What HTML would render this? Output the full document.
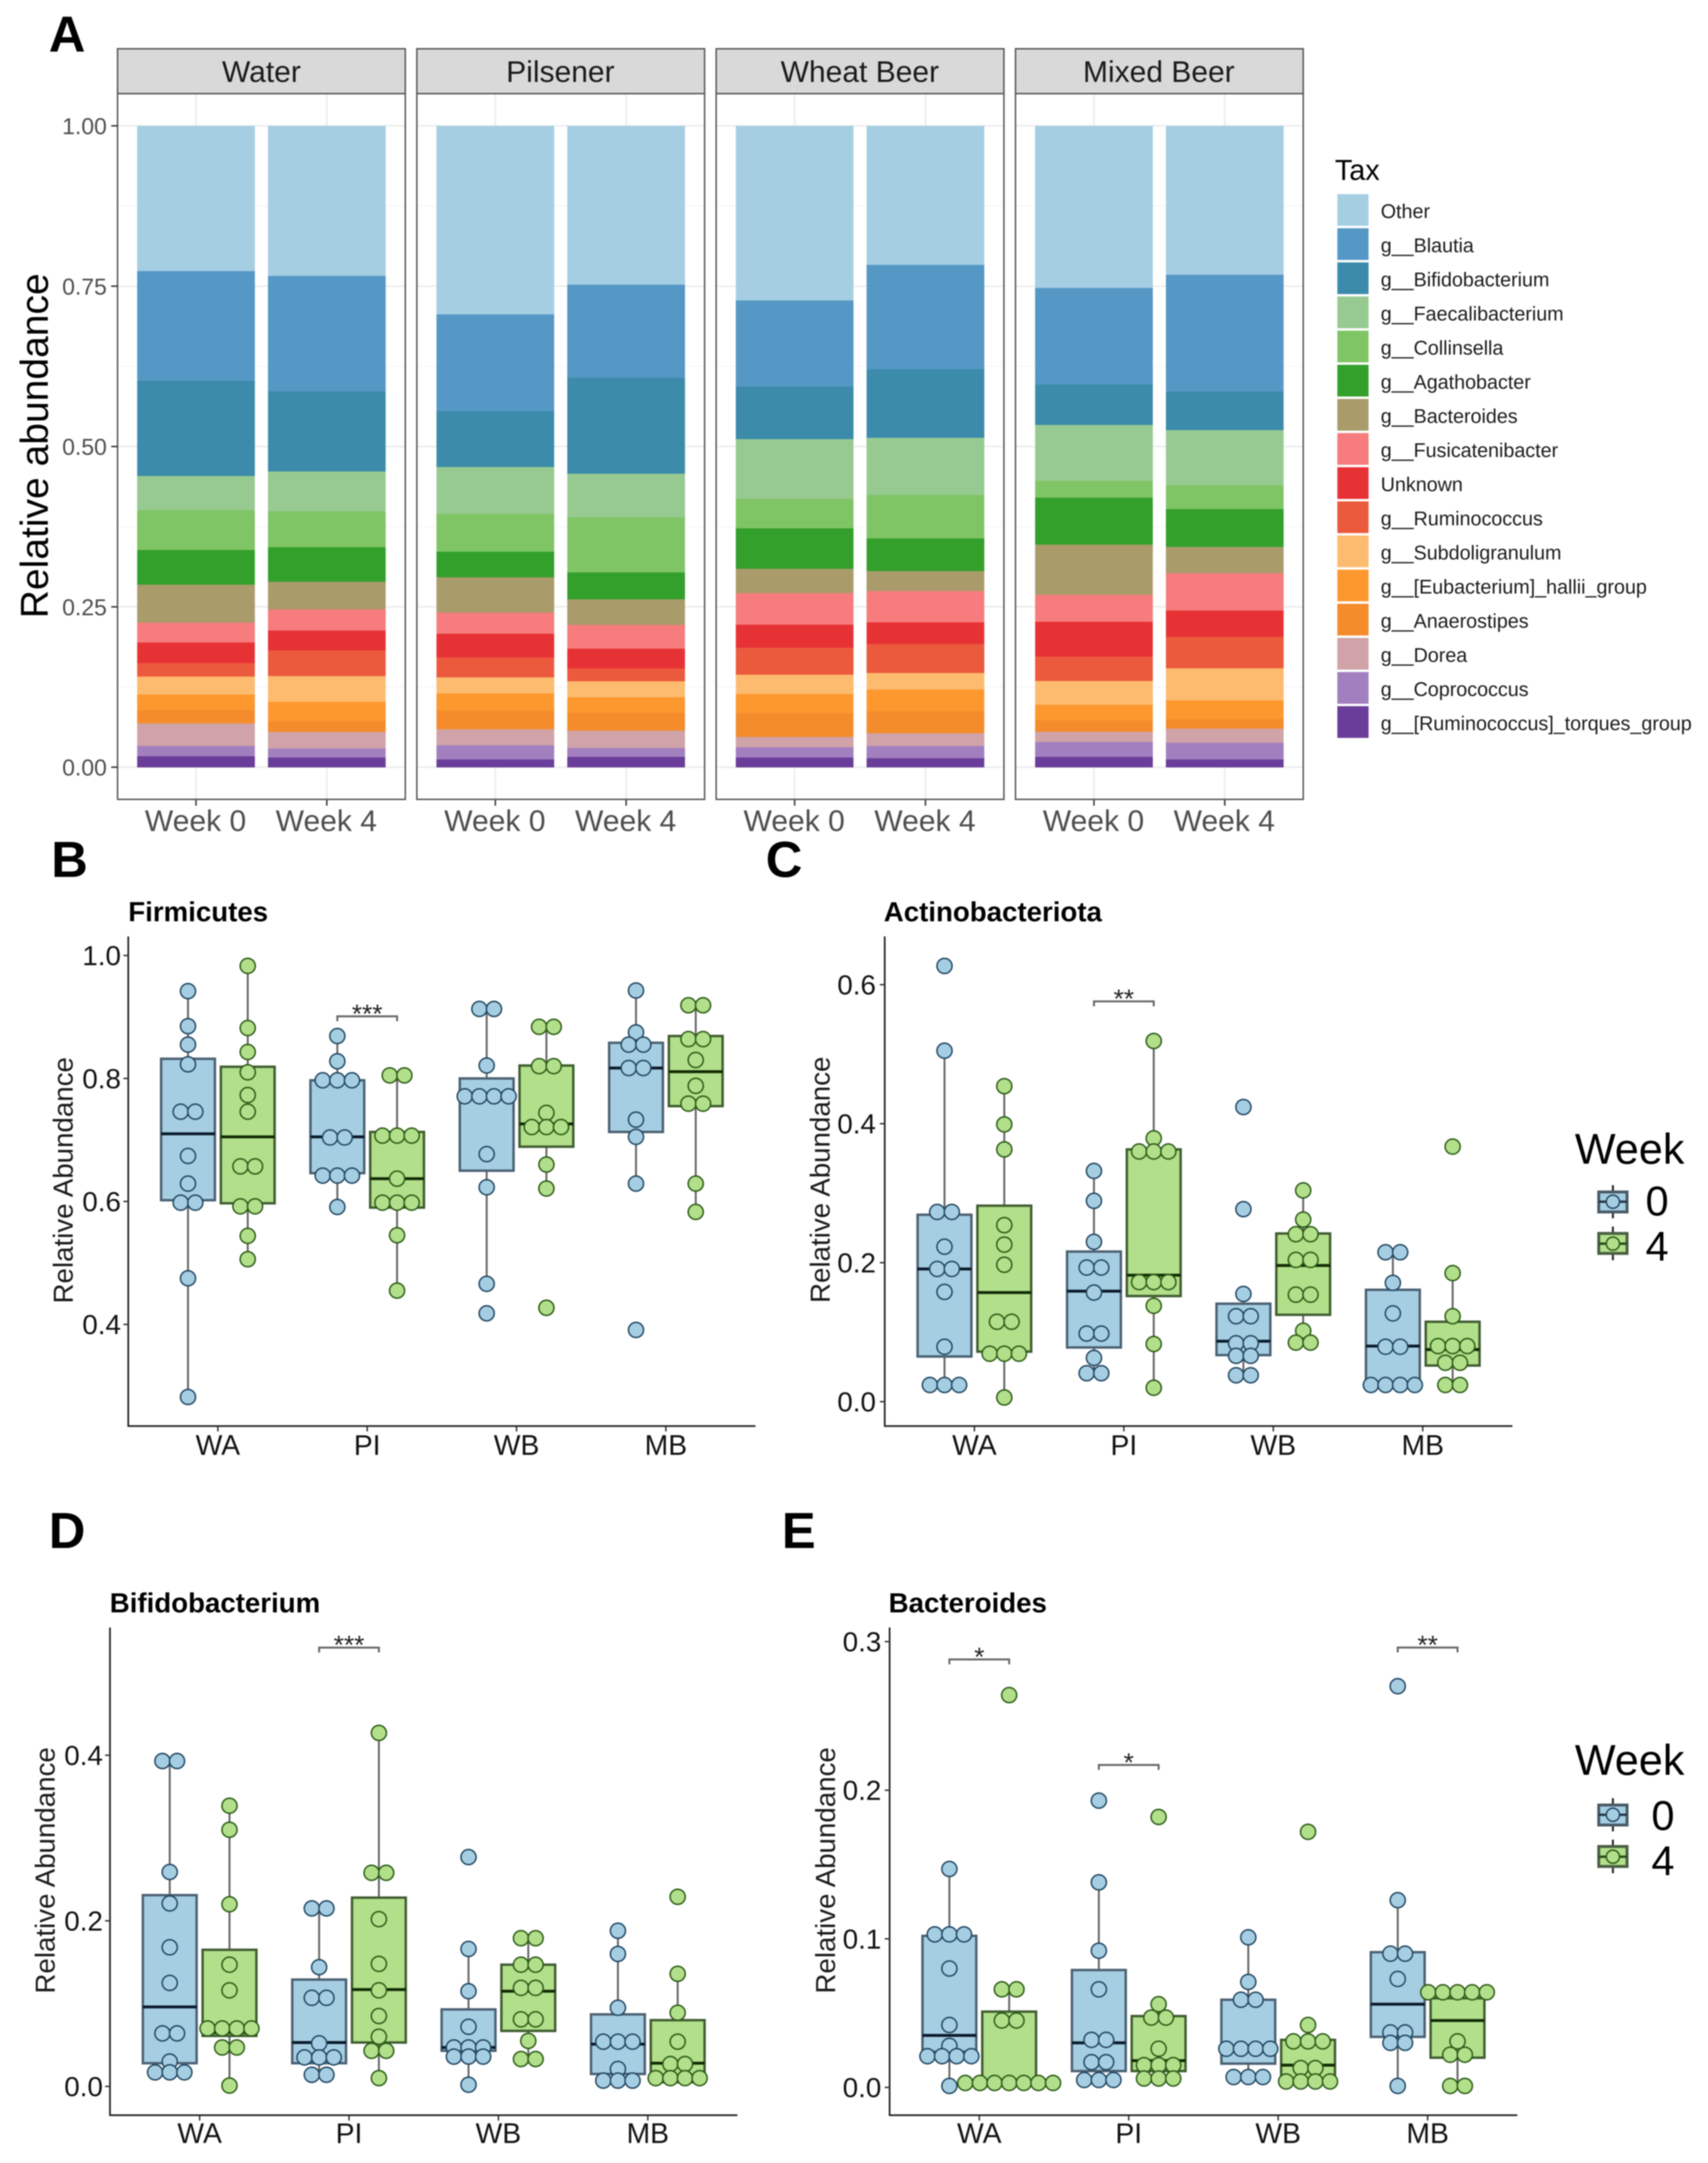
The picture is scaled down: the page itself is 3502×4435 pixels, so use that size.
<!DOCTYPE html>
<html lang="en">
<head>
<meta charset="utf-8">
<title>Relative abundance of gut microbiota by beer type</title>
<style>
html,body{margin:0;padding:0;background:#fff;width:3502px;height:4435px;overflow:hidden}
svg{display:block;filter:blur(1.3px)}
text{font-family:"Liberation Sans",Arial,sans-serif}
.letter{font-size:104px;font-weight:700;fill:#000}
.strip{font-size:61.5px;fill:#1a1a1a;text-anchor:middle}
.leg{font-size:40.4px;fill:#1a1a1a}
.title{font-size:56.7px;font-weight:700;fill:#000}
.ytitle{font-size:56.8px;fill:#1a1a1a;text-anchor:middle}
.wk{font-size:88.5px;fill:#000}
.wkv{font-size:85px;fill:#000}
</style>
</head>
<body>
<svg id="fig" xmlns="http://www.w3.org/2000/svg" width="3502" height="4435" viewBox="0 0 3502 4435">
<rect x="0" y="0" width="3502" height="4435" fill="#fff"/>
<g id="panelA"></g>
<g id="panelB"></g>
<g id="panelC"></g>
<g id="panelD"></g>
<g id="panelE"></g>

<text class="letter" x="100" y="106">A</text>
<text class="letter" x="105" y="1798">B</text>
<text class="letter" x="1570" y="1798">C</text>
<text class="letter" x="100" y="3174">D</text>
<text class="letter" x="1603" y="3174">E</text>

<text class="strip" x="536" y="168">Water</text>
<text class="strip" x="1149" y="168">Pilsener</text>
<text class="strip" x="1763" y="168">Wheat Beer</text>
<text class="strip" x="2376" y="168">Mixed Beer</text>
<text font-size="80" fill="#000" text-anchor="middle" transform="translate(98,914) rotate(-90)">Relative abundance</text>

<g>
<text x="2737" y="369" font-size="59" fill="#000">Tax</text>
<rect x="2742" y="398" width="64" height="65" fill="#a6cee3"/>
<rect x="2742" y="468" width="64" height="65" fill="#5598c6"/>
<rect x="2742" y="538" width="64" height="65" fill="#3c8bab"/>
<rect x="2742" y="608" width="64" height="65" fill="#97ca91"/>
<rect x="2742" y="678" width="64" height="65" fill="#80c565"/>
<rect x="2742" y="748" width="64" height="65" fill="#33a02c"/>
<rect x="2742" y="818" width="64" height="65" fill="#aa9b6b"/>
<rect x="2742" y="888" width="64" height="65" fill="#f67c7d"/>
<rect x="2742" y="958" width="64" height="65" fill="#e73235"/>
<rect x="2742" y="1028" width="64" height="65" fill="#ec5a3d"/>
<rect x="2742" y="1098" width="64" height="65" fill="#fdbb6f"/>
<rect x="2742" y="1168" width="64" height="65" fill="#fd982f"/>
<rect x="2742" y="1238" width="64" height="65" fill="#f48c2c"/>
<rect x="2742" y="1308" width="64" height="65" fill="#cfa3a8"/>
<rect x="2742" y="1378" width="64" height="65" fill="#a27fbe"/>
<rect x="2742" y="1448" width="64" height="65" fill="#6a3d9a"/>
<text class="leg" x="2831" y="447">Other</text>
<text class="leg" x="2831" y="517">g__Blautia</text>
<text class="leg" x="2831" y="587">g__Bifidobacterium</text>
<text class="leg" x="2831" y="657">g__Faecalibacterium</text>
<text class="leg" x="2831" y="727">g__Collinsella</text>
<text class="leg" x="2831" y="797">g__Agathobacter</text>
<text class="leg" x="2831" y="867">g__Bacteroides</text>
<text class="leg" x="2831" y="937">g__Fusicatenibacter</text>
<text class="leg" x="2831" y="1007">Unknown</text>
<text class="leg" x="2831" y="1077">g__Ruminococcus</text>
<text class="leg" x="2831" y="1147">g__Subdoligranulum</text>
<text class="leg" x="2831" y="1217">g__[Eubacterium]_hallii_group</text>
<text class="leg" x="2831" y="1287">g__Anaerostipes</text>
<text class="leg" x="2831" y="1357">g__Dorea</text>
<text class="leg" x="2831" y="1427">g__Coprococcus</text>
<text class="leg" x="2831" y="1497">g__[Ruminococcus]_torques_group</text>
</g>

<text class="title" x="263" y="1889">Firmicutes</text>
<text class="title" x="1812" y="1889">Actinobacteriota</text>
<text class="title" x="225" y="3306">Bifidobacterium</text>
<text class="title" x="1822" y="3306">Bacteroides</text>

<text class="ytitle" transform="translate(149,2420) rotate(-90)">Relative Abundance</text>
<text class="ytitle" transform="translate(1701,2419) rotate(-90)">Relative Abundance</text>
<text class="ytitle" transform="translate(112,3835) rotate(-90)">Relative Abundance</text>
<text class="ytitle" transform="translate(1712,3835) rotate(-90)">Relative Abundance</text>

<g>
<text class="wk" x="3229" y="2386">Week</text>
<line x1="3307" x2="3307" y1="2430" y2="2498" stroke="#222" stroke-width="4"/>
<rect x="3278" y="2444" width="58" height="41" fill="#a6cee3" stroke="#4a5a66" stroke-width="6"/>
<line x1="3278" x2="3336" y1="2464" y2="2464" stroke="#263a48" stroke-width="5"/>
<circle cx="3307" cy="2464" r="13.5" fill="#a6cee3" stroke="#1f4560" stroke-width="3"/>
<line x1="3307" x2="3307" y1="2515" y2="2584" stroke="#222" stroke-width="4"/>
<rect x="3278" y="2529" width="58" height="41" fill="#b2df8a" stroke="#4a5f42" stroke-width="6"/>
<line x1="3278" x2="3336" y1="2550" y2="2550" stroke="#2a4a1c" stroke-width="5"/>
<circle cx="3307" cy="2550" r="13.5" fill="#b2df8a" stroke="#2a5a14" stroke-width="3"/>
<text class="wkv" x="3374" y="2492">0</text>
<text class="wkv" x="3374" y="2585">4</text>
</g>

<g>
<text class="wk" x="3229" y="3639">Week</text>
<line x1="3307" x2="3307" y1="3687" y2="3755" stroke="#222" stroke-width="4"/>
<rect x="3278" y="3701" width="58" height="41" fill="#a6cee3" stroke="#4a5a66" stroke-width="6"/>
<line x1="3278" x2="3336" y1="3721" y2="3721" stroke="#263a48" stroke-width="5"/>
<circle cx="3307" cy="3721" r="13.5" fill="#a6cee3" stroke="#1f4560" stroke-width="3"/>
<line x1="3307" x2="3307" y1="3772" y2="3841" stroke="#222" stroke-width="4"/>
<rect x="3278" y="3786" width="58" height="41" fill="#b2df8a" stroke="#4a5f42" stroke-width="6"/>
<line x1="3278" x2="3336" y1="3807" y2="3807" stroke="#2a4a1c" stroke-width="5"/>
<circle cx="3307" cy="3807" r="13.5" fill="#b2df8a" stroke="#2a5a14" stroke-width="3"/>
<text class="wkv" x="3386" y="3752">0</text>
<text class="wkv" x="3386" y="3845">4</text>
</g>
</svg>

<script>
/* ---------- Panel A data: abundance per taxon, top of stack first ---------- */
const taxa = ['Other','g__Blautia','g__Bifidobacterium','g__Faecalibacterium','g__Collinsella','g__Agathobacter','g__Bacteroides','g__Fusicatenibacter','Unknown','g__Ruminococcus','g__Subdoligranulum','g__[Eubacterium]_hallii_group','g__Anaerostipes','g__Dorea','g__Coprococcus','g__[Ruminococcus]_torques_group'];
const taxaColors = ['#a6cee3','#5598c6','#3c8bab','#97ca91','#80c565','#33a02c','#aa9b6b','#f67c7d','#e73235','#ec5a3d','#fdbb6f','#fd982f','#f48c2c','#cfa3a8','#a27fbe','#6a3d9a'];
const facets = ['Water','Pilsener','Wheat Beer','Mixed Beer'];
const weekLabels = ['Week 0','Week 4'];
const stackTicks = ['0.00','0.25','0.50','0.75','1.00'];
const stackMinorTicks = [0.125,0.375,0.625,0.875];
const waterWeek0 = [.226,.171,.148,.053,.062,.054,.059,.031,.032,.021,.028,.024,.021,.035,.016,.017];
const waterWeek4 = [.234,.180,.125,.062,.056,.054,.043,.033,.031,.040,.040,.030,.017,.026,.014,.015];
const pilsenerWeek0 = [.294,.151,.087,.073,.059,.040,.055,.033,.037,.031,.025,.027,.029,.025,.022,.012];
const pilsenerWeek4 = [.248,.145,.150,.068,.086,.042,.040,.037,.031,.020,.025,.024,.028,.027,.014,.016];
const wheatWeek0 = [.272,.134,.082,.093,.046,.063,.038,.049,.036,.042,.030,.030,.037,.016,.016,.015];
const wheatWeek4 = [.217,.163,.107,.089,.068,.051,.031,.049,.034,.045,.026,.034,.034,.020,.019,.014];
const mixedWeek0 = [.252,.150,.063,.087,.026,.073,.078,.042,.054,.038,.037,.024,.018,.016,.023,.016];
const mixedWeek4 = [.232,.182,.060,.086,.037,.059,.041,.058,.041,.049,.050,.029,.015,.022,.026,.012];

/* ---------- Box panels: categories and values ---------- */
const groups = ['WA','PI','WB','MB'];

const firmicutesTicks = ['0.4','0.6','0.8','1.0'];
/* order: WA0, WA4, PI0, PI4, WB0, WB4, MB0, MB4. Repeated values stack side by side. */
const firmicutesPoints = [
 [.942,.885,.855,.823,.746,.746,.674,.629,.598,.598,.475,.282],
 [.983,.882,.843,.81,.773,.746,.657,.657,.592,.592,.544,.506],
 [.869,.828,.797,.797,.797,.704,.704,.642,.642,.642,.591],
 [.805,.805,.707,.707,.707,.637,.598,.598,.598,.545,.455],
 [.913,.913,.821,.771,.771,.771,.771,.677,.623,.466,.418],
 [.884,.884,.82,.82,.744,.721,.721,.721,.66,.621,.427],
 [.943,.875,.855,.855,.817,.817,.733,.705,.629,.391],
 [.919,.919,.864,.864,.83,.788,.759,.759,.629,.583]
];
/* q1, median, q3, whisker low, whisker high */
const firmicutesBoxes = [
 [.602,.710,.832,.282,.942],[.597,.705,.819,.506,.983],
 [.646,.705,.797,.591,.869],[.590,.637,.713,.455,.805],
 [.650,.771,.800,.466,.913],[.689,.726,.821,.621,.884],
 [.713,.817,.858,.629,.943],[.755,.811,.869,.583,.919]
];
const firmicutesBrackets = [['PI',.901,'***']];

const actinoTicks = ['0.0','0.2','0.4','0.6'];
const actinoPoints = [
 [.627,.505,.273,.273,.223,.191,.191,.158,.079,.024,.024,.024],
 [.454,.399,.363,.254,.226,.197,.115,.115,.069,.069,.069,.006],
 [.332,.289,.230,.193,.193,.157,.098,.098,.063,.041,.041],
 [.519,.379,.360,.360,.360,.172,.172,.172,.138,.083,.020],
 [.424,.277,.155,.123,.123,.084,.084,.066,.066,.038,.038],
 [.304,.262,.241,.241,.204,.204,.154,.154,.102,.085,.085],
 [.215,.215,.171,.127,.079,.079,.024,.024,.024,.024],
 [.367,.185,.123,.080,.080,.080,.056,.056,.024,.024]
];
const actinoBoxes = [
 [.065,.191,.269,.024,.505],[.072,.157,.282,.006,.454],
 [.078,.159,.216,.041,.332],[.152,.182,.363,.020,.519],
 [.067,.087,.141,.038,.155],[.125,.196,.242,.085,.304],
 [.022,.080,.161,.024,.215],[.052,.075,.115,.024,.185]
];
const actinoBrackets = [['PI',.576,'**']];

const bifidoTicks = ['0.0','0.2','0.4'];
const bifidoPoints = [
 [.393,.393,.259,.221,.168,.125,.064,.064,.030,.017,.017,.017],
 [.339,.310,.220,.147,.116,.070,.070,.070,.070,.047,.047,.001],
 [.215,.215,.144,.107,.107,.052,.035,.035,.035,.014,.014],
 [.427,.258,.258,.202,.148,.116,.085,.060,.043,.043,.010],
 [.277,.166,.115,.072,.047,.047,.047,.036,.036,.036,.002],
 [.179,.179,.147,.147,.119,.119,.081,.081,.055,.033,.033],
 [.188,.160,.095,.054,.054,.054,.021,.007,.007,.007],
 [.229,.136,.089,.054,.027,.027,.010,.010,.010,.010]
];
const bifidoBoxes = [
 [.028,.096,.231,.017,.393],[.061,.065,.165,.001,.339],
 [.028,.053,.129,.014,.215],[.053,.117,.228,.010,.427],
 [.043,.047,.093,.002,.166],[.067,.115,.147,.033,.179],
 [.015,.051,.087,.007,.188],[.005,.028,.080,.010,.136]
];
const bifidoBrackets = [['PI',.530,'***']];

const bacteroidesTicks = ['0.0','0.1','0.2','0.3'];
const bacteroidesPoints = [
 [.147,.103,.103,.103,.080,.042,.028,.021,.021,.021,.021,.001],
 [.264,.066,.066,.045,.045,.003,.003,.003,.003,.003,.003,.003],
 [.193,.138,.092,.066,.032,.032,.017,.017,.005,.005,.005],
 [.182,.056,.047,.047,.026,.015,.015,.015,.006,.006,.006],
 [.101,.071,.059,.059,.026,.026,.026,.026,.007,.007,.007],
 [.172,.042,.031,.031,.031,.013,.013,.004,.004,.004,.004],
 [.270,.126,.090,.090,.073,.037,.037,.030,.030,.001],
 [.064,.064,.064,.064,.064,.031,.022,.022,.001,.001]
];
const bacteroidesBoxes = [
 [.024,.035,.102,.001,.147],[.003,.003,.051,.003,.066],
 [.011,.030,.079,.005,.138],[.011,.018,.048,.006,.056],
 [.016,.026,.059,.007,.101],[.004,.015,.032,.004,.042],
 [.034,.056,.091,.001,.126],[.020,.045,.060,.001,.064]
];
const bacteroidesBrackets = [['WA',.288,'*'],['PI',.217,'*'],['MB',.296,'**']];

/* ---------- Drawing helpers ---------- */
const NS = 'http://www.w3.org/2000/svg';
function add(parent, tag, attrs, txt) {
  const e = document.createElementNS(NS, tag);
  for (const k in attrs) e.setAttribute(k, attrs[k]);
  if (txt !== undefined) e.textContent = txt;
  parent.appendChild(e);
  return e;
}
function slug(s) { return s.toLowerCase().replace(/[^a-z0-9]+/g, '-').replace(/^-|-$/g, ''); }

/* ---------- Panel A ---------- */
const facetSamples = [[waterWeek0, waterWeek4],[pilsenerWeek0, pilsenerWeek4],[wheatWeek0, wheatWeek4],[mixedWeek0, mixedWeek4]];
(function drawStacked() {
  const root = document.getElementById('panelA');
  const panelW = 590, gap = 23.7, firstLeft = 241, stripTop = 100, stripBot = 192, panelBot = 1639;
  const yA = v => 1573 - v * 1315;
  const unit = panelW / 2.2;
  facets.forEach((facet, f) => {
    const left = firstLeft + f * (panelW + gap);
    const xA = i => left + (0.6 + i) * unit;
    const fs = slug(facet);
    const g = add(root, 'g', {});
    
    
    stackMinorTicks.forEach(v => {
      const l = add(g, 'line', {x1:left, x2:left+panelW, y1:yA(v), y2:yA(v), stroke:'#f2f2f2', 'stroke-width':1.6});
      
      
    });
    stackTicks.forEach(t => {
      const l = add(g, 'line', {x1:left, x2:left+panelW, y1:yA(+t), y2:yA(+t), stroke:'#ebebeb', 'stroke-width':3});
      
      
    });
    weekLabels.forEach((w, i) => {
      const l = add(g, 'line', {x1:xA(i), x2:xA(i), y1:stripBot, y2:panelBot, stroke:'#ebebeb', 'stroke-width':3});
      
      
    });
    facetSamples[f].forEach((sample, i) => {
      const total = sample.reduce((a, b) => a + b, 0);
      let top = 1;
      sample.forEach((val, k) => {
        const h = val / total;
        const r = add(g, 'rect', {x:xA(i) - 0.45*unit, y:yA(top), width:0.9*unit, height:yA(top-h)-yA(top)+0.5, fill:taxaColors[k]});
        
        
        top -= h;
      });
      const tk = add(g, 'line', {x1:xA(i), x2:xA(i), y1:panelBot, y2:panelBot+13, stroke:'#333', 'stroke-width':3});
      
      
      const lb = add(g, 'text', {x:xA(i)-1, y:1704, 'font-size':61.6, fill:'#4d4d4d', 'text-anchor':'middle'}, weekLabels[i]);
      
      
    });
    const border = add(g, 'rect', {x:left, y:stripBot, width:panelW, height:panelBot-stripBot, fill:'none', stroke:'#555', 'stroke-width':3});
    
    
    const strip = add(g, 'rect', {x:left, y:stripTop, width:panelW, height:stripBot-stripTop, fill:'#d9d9d9', stroke:'#555', 'stroke-width':3});
    
    
  });
  stackTicks.forEach(t => {
    const tk = add(root, 'line', {x1:228, x2:241, y1:yA(+t), y2:yA(+t), stroke:'#333', 'stroke-width':3});
    
    
    const lb = add(root, 'text', {x:219, y:yA(+t)+17, 'font-size':47, fill:'#4d4d4d', 'text-anchor':'end'}, t);
    
    
  });
})();

/* ---------- Box panels ---------- */
function drawBoxPanel(id, cfg, points, boxes, brackets, ticks) {
  const root = document.getElementById(id);
  const {left, right, top, bottom, domain, labelRight, xBase} = cfg;
  const unit = (right - left) / 4.2;
  const xCat = i => left + (0.6 + i) * unit;
  const y = v => bottom - (v - domain[0]) / (domain[1] - domain[0]) * (bottom - top);
  const fills = ['#a6cee3', '#b2df8a'];
  const boxStroke = ['#4a6072', '#3f5c30'];
  const medianStroke = ['#0a1a2a', '#122a05'];
  const dotStroke = ['#1f4560', '#2a5a14'];
  const step = 30, dotR = 15.5;

  groups.forEach((grp, gi) => {
    [0, 1].forEach(wi => {
      const idx = gi * 2 + wi;
      const cx = xCat(gi) + (wi === 0 ? -0.2 : 0.2) * unit;
      const [q1, med, q3, lo, hi] = boxes[idx];
      const name = grp.toLowerCase() + '-week-' + (wi === 0 ? '0' : '4');
      const g = add(root, 'g', {});
      
      
      const whisker = add(g, 'line', {x1:cx, x2:cx, y1:y(hi), y2:y(lo), stroke:'#666', 'stroke-width':4});
      
      
      const box = add(g, 'rect', {x:cx-0.18*unit, y:y(q3), width:0.36*unit, height:y(q1)-y(q3), fill:fills[wi], stroke:boxStroke[wi], 'stroke-width':5});
      
      
      const median = add(g, 'line', {x1:cx-0.18*unit, x2:cx+0.18*unit, y1:y(med), y2:y(med), stroke:medianStroke[wi], 'stroke-width':6});
      
      
      const counts = {};
      points[idx].forEach(v => { counts[v] = (counts[v] || 0) + 1; });
      Object.keys(counts).forEach(key => {
        const n = counts[key];
        for (let k = 0; k < n; k++) {
          const dot = add(g, 'circle', {cx:cx + (k - (n-1)/2) * step, cy:y(+key), r:dotR, fill:fills[wi], stroke:dotStroke[wi], 'stroke-width':3});
          
          
        }
      });
    });
    const tk = add(root, 'line', {x1:xCat(gi), x2:xCat(gi), y1:bottom, y2:bottom+11, stroke:'#333', 'stroke-width':3});
    
    
    const lb = add(root, 'text', {x:xCat(gi), y:xBase, 'font-size':58, fill:'#111', 'text-anchor':'middle'}, grp);
    
    
  });

  brackets.forEach(([grp, val, stars]) => {
    const c = xCat(groups.indexOf(grp));
    const yb = y(val);
    const p = add(root, 'path', {d:'M' + (c-0.2*unit) + ' ' + (yb+10) + 'V' + yb + 'H' + (c+0.2*unit) + 'V' + (yb+10), fill:'none', stroke:'#666', 'stroke-width':4});
    
    
    const s = add(root, 'text', {x:c, y:yb+13, 'font-size':54, fill:'#222', 'text-anchor':'middle'}, stars);
    
    
  });

  const axL = add(root, 'line', {x1:left, x2:left, y1:top, y2:bottom+1.5, stroke:'#222', 'stroke-width':3.5});
  
  
  const axB = add(root, 'line', {x1:left-1.5, x2:right, y1:bottom, y2:bottom, stroke:'#222', 'stroke-width':3.5});
  
  
  ticks.forEach(t => {
    const tk = add(root, 'line', {x1:left-10, x2:left, y1:y(+t), y2:y(+t), stroke:'#333', 'stroke-width':3});
    
    
    const lb = add(root, 'text', {x:labelRight, y:y(+t)+20, 'font-size':57, fill:'#111', 'text-anchor':'end'}, t);
    
    
  });
}

drawBoxPanel('panelB', {left:263, right:1549, top:1920, bottom:2924, domain:[.2347,1.031], labelRight:248, xBase:2983}, firmicutesPoints, firmicutesBoxes, firmicutesBrackets, firmicutesTicks);
drawBoxPanel('panelC', {left:1814, right:3101, top:1920, bottom:2924, domain:[-.0351,.6695], labelRight:1796, xBase:2983}, actinoPoints, actinoBoxes, actinoBrackets, actinoTicks);
drawBoxPanel('panelD', {left:225.5, right:1512, top:3337, bottom:4337, domain:[-.0348,.5543], labelRight:211, xBase:4394}, bifidoPoints, bifidoBoxes, bifidoBrackets, bifidoTicks);
drawBoxPanel('panelE', {left:1824, right:3111, top:3337, bottom:4337, domain:[-.0187,.3095], labelRight:1807, xBase:4394}, bacteroidesPoints, bacteroidesBoxes, bacteroidesBrackets, bacteroidesTicks);
</script>
</body>
</html>
